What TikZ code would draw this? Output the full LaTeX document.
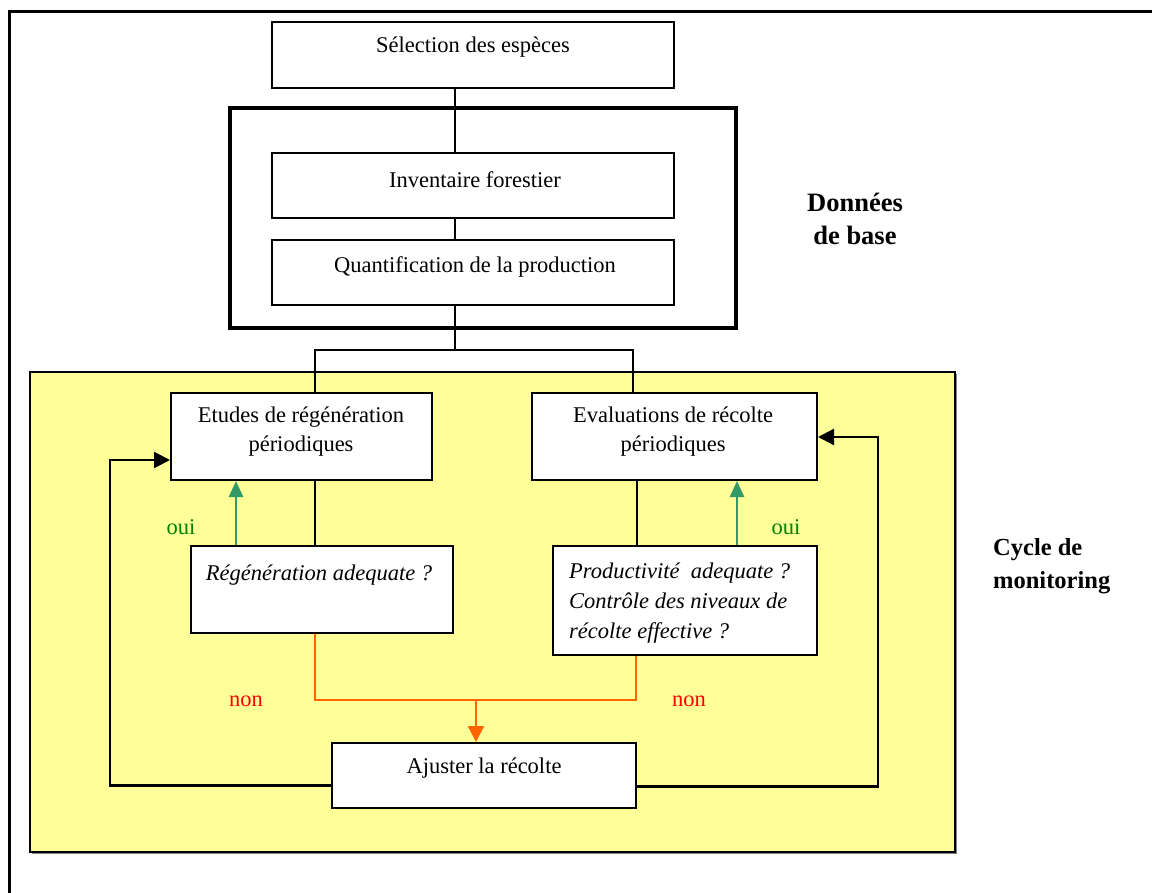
\documentclass[tikz,border=0pt]{standalone}
\usepackage{fontspec}
\setmainfont{Liberation Serif}
\usetikzlibrary{arrows.meta}
\definecolor{yel}{HTML}{FFFF99}
\definecolor{grn}{HTML}{339966}
\definecolor{ouic}{HTML}{008000}
\definecolor{orng}{HTML}{FF6600}
\definecolor{nonc}{HTML}{FF0000}
\begin{document}
\begin{tikzpicture}[x=1pt,y=-1pt,
  box/.style={draw,fill=white,line width=2pt,inner sep=0pt},
  txt/.style={font=\fontsize{22.5}{29}\selectfont,align=center,inner sep=0pt},
  itx/.style={font=\fontsize{22.5}{30}\selectfont\itshape,inner sep=0pt},
  bld/.style={font=\fontsize{26.5}{33}\selectfont\bfseries,inner sep=0pt},
  bld2/.style={font=\fontsize{24.5}{33}\selectfont\bfseries,inner sep=0pt},
  blk/.style={line width=2pt},
  fb/.style={line width=2.2pt,-{Triangle[length=16pt,width=16pt]}},
  garr/.style={grn,line width=2.6pt,-{Triangle[length=16pt,width=14pt]}},
  oline/.style={orng,line width=2.2pt},
  oarr/.style={orng,line width=2.2pt,-{Triangle[length=16pt,width=16pt]}}]
\useasboundingbox (0,0) rectangle (1152,893);
% outer frame
\draw[line width=3pt] (9,893) -- (9,12) -- (1152,12);
% yellow area
\fill[black!50] (31.5,374) rectangle (956.5,853.5);
\filldraw[fill=yel,draw=black,line width=1.5pt] (30,372) rectangle (955,852);
% thick box
\draw[line width=4.5pt] (230,108) rectangle (736,328);
% boxes
\node[box,minimum width=402pt,minimum height=66pt] (sel) at (473,55) {};
\node[box,minimum width=402pt,minimum height=65pt] (inv) at (473,185.5) {};
\node[box,minimum width=402pt,minimum height=65pt] (qua) at (473,272.5) {};
\node[box,minimum width=261pt,minimum height=87pt] (etu) at (301.5,436.5) {};
\node[box,minimum width=285pt,minimum height=87pt] (eva) at (674.5,436.5) {};
\node[box,minimum width=262pt,minimum height=87pt] (reg) at (322,589.5) {};
\node[box,minimum width=264pt,minimum height=109pt] (prod) at (685,600.5) {};
\node[box,minimum width=304pt,minimum height=65pt] (aj) at (484,775.5) {};
% texts
\node[txt] (tsel) at (473,47) {Sélection des espèces};
\node[txt] (tinv) at (475,180) {Inventaire forestier};
\node[txt] (tqua) at (475,267) {Quantification de la production};
\node[txt] (tetu) at (301,432) {Etudes de régénération\\périodiques};
\node[txt] (teva) at (673,432) {Evaluations de récolte\\périodiques};
\node[itx] (treg) at (319,575) {Régénération adequate ?};
\node[itx,anchor=west,align=left] (tprod) at (569,603) {Productivité\ \ adequate ?\\Contrôle des niveaux de\\récolte effective ?};
\node[txt] (taj) at (484,768) {Ajuster la récolte};
\node[bld,align=center] (tdon) at (855,219) {Données\\de base};
\node[bld2,anchor=west,align=left] (tcyc) at (993,566) {Cycle de\\monitoring};
\node[txt,text=ouic] (oui1) at (181,527) {oui};
\node[txt,text=ouic] (oui2) at (786,527) {oui};
\node[txt,text=nonc] (non1) at (246,701) {non};
\node[txt,text=nonc] (non2) at (689,701) {non};
% coordinates
\coordinate (bm) at (455,350);
\coordinate (bl) at (315,350);
\coordinate (br) at (633,350);
\coordinate (cl) at (315,0);
\coordinate (cr) at (637,0);
\coordinate (gl) at (236,0);
\coordinate (gr) at (737,0);
\coordinate (o1) at (315,700);
\coordinate (o2) at (636,700);
\coordinate (om) at (476,700);
\coordinate (fl) at (110,460);
\coordinate (fr) at (878,437);
% black connectors
\draw[blk] (sel.south -| bm) -- (inv.north -| bm);
\draw[blk] (inv.south -| bm) -- (qua.north -| bm);
\draw[blk] (qua.south -| bm) -- (bm);
\draw[blk] (etu.north -| bl) -- (bl) -- (br) -- (eva.north -| br);
\draw[blk] (etu.south -| cl) -- (reg.north -| cl);
\draw[blk] (eva.south -| cr) -- (prod.north -| cr);
% green arrows
\draw[garr] (reg.north -| gl) -- (etu.south -| gl);
\draw[garr] (prod.north -| gr) -- (eva.south -| gr);
% orange
\draw[oline] (reg.south -| o1) -- (o1) -- (o2) -- (prod.south -| o2);
\draw[oarr] (om) -- (aj.north -| om);
% feedback
\draw[fb] ([yshift=-10pt]aj.west) -| (fl) -- (fl -| etu.west);
\draw[fb] ([yshift=-11pt]aj.east) -| (fr) -- (fr -| eva.east);
\end{tikzpicture}
\end{document}
